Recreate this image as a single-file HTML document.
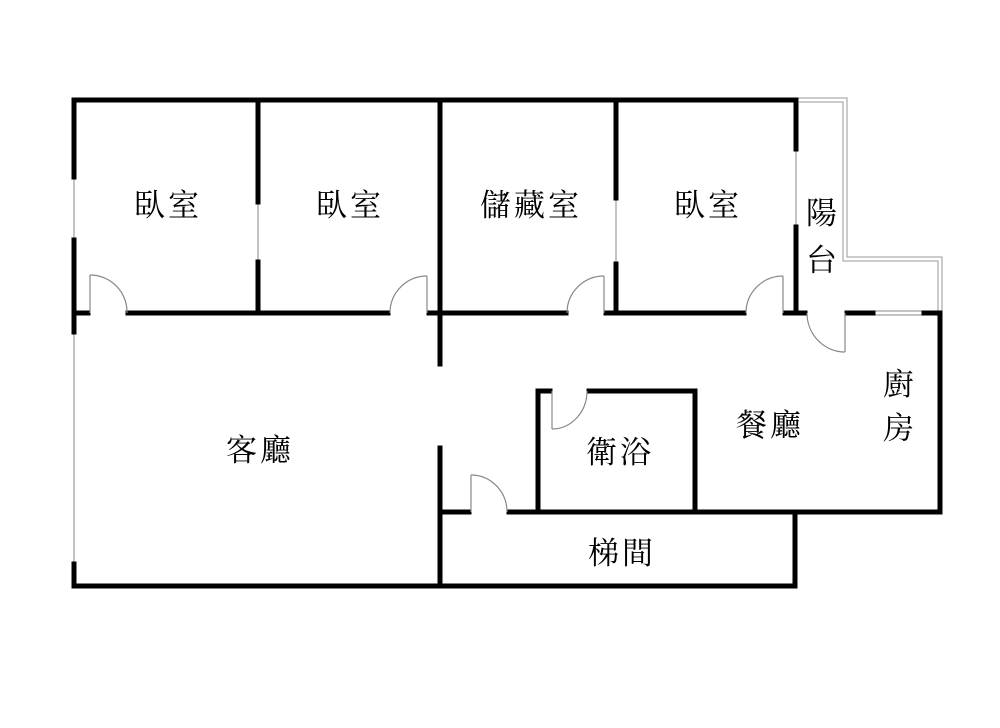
<!DOCTYPE html>
<html><head><meta charset="utf-8"><style>html,body{margin:0;padding:0;background:#fff;}svg{display:block}</style></head>
<body>
<svg width="1000" height="728" viewBox="0 0 1000 728" xmlns="http://www.w3.org/2000/svg">
<rect width="1000" height="728" fill="#fff"/>
<g fill="none" stroke="#999" stroke-width="1">
<polyline points="797,98 847,98 847,257 942,257 942,313"/>
<polyline points="799,102 843,102 843,261 938,261 938,313"/>
</g>
<g stroke="#888" stroke-width="1">
<line x1="74" y1="177" x2="74" y2="240"/>
<line x1="74" y1="332" x2="74" y2="564"/>
<line x1="258" y1="202" x2="258" y2="262"/>
<line x1="616" y1="198" x2="616" y2="264"/>
<line x1="796" y1="149" x2="796" y2="227"/>
<line x1="875" y1="311" x2="922" y2="311"/>
<line x1="875" y1="315" x2="922" y2="315"/>
</g>
<g stroke="#000" stroke-width="5" stroke-linecap="square" fill="none">
<line x1="74" y1="100" x2="796" y2="100"/>
<line x1="74" y1="100" x2="74" y2="177"/>
<line x1="74" y1="240" x2="74" y2="332"/>
<line x1="74" y1="564" x2="74" y2="586"/>
<line x1="74" y1="586" x2="795" y2="586"/>
<line x1="258" y1="100" x2="258" y2="202"/>
<line x1="258" y1="262" x2="258" y2="313"/>
<line x1="440" y1="100" x2="440" y2="364"/>
<line x1="440" y1="448" x2="440" y2="586"/>
<line x1="616" y1="100" x2="616" y2="198"/>
<line x1="616" y1="264" x2="616" y2="313"/>
<line x1="796" y1="100" x2="796" y2="149"/>
<line x1="796" y1="227" x2="796" y2="313"/>
<line x1="74" y1="313" x2="88" y2="313"/>
<line x1="128" y1="313" x2="388" y2="313"/>
<line x1="429" y1="313" x2="566" y2="313"/>
<line x1="606" y1="313" x2="744" y2="313"/>
<line x1="785" y1="313" x2="805" y2="313"/>
<line x1="847" y1="313" x2="873" y2="313"/>
<line x1="924" y1="313" x2="940" y2="313"/>
<line x1="940" y1="313" x2="940" y2="512"/>
<line x1="440" y1="512" x2="469" y2="512"/>
<line x1="509" y1="512" x2="940" y2="512"/>
<line x1="795" y1="512" x2="795" y2="586"/>
<line x1="538" y1="391" x2="538" y2="512"/>
<line x1="695" y1="391" x2="695" y2="512"/>
<line x1="538" y1="391" x2="550" y2="391"/>
<line x1="589" y1="391" x2="695" y2="391"/>
</g>
<g stroke="#888" stroke-width="1.2" fill="none">
<line x1="90" y1="313" x2="90" y2="275"/><path d="M90,275 A37,37 0 0 1 127,313"/>
<line x1="427" y1="313" x2="427" y2="276"/><path d="M427,276 A37,37 0 0 0 390,313"/>
<line x1="604" y1="313" x2="604" y2="276"/><path d="M604,276 A37,37 0 0 0 567,313"/>
<line x1="783" y1="313" x2="783" y2="276"/><path d="M783,276 A37,37 0 0 0 746,313"/>
<line x1="845" y1="313" x2="845" y2="352"/><path d="M845,352 A38,39 0 0 1 807,313"/>
<line x1="552" y1="391" x2="552" y2="429"/><path d="M552,429 A35,38 0 0 0 587,391"/>
<line x1="471" y1="512" x2="471" y2="475"/><path d="M471,475 A36,37 0 0 1 507,512"/>
</g>
<g font-family="'Liberation Serif','Noto Serif CJK SC',serif" font-size="31" fill="#000" text-anchor="middle" letter-spacing="3">
<text x="168" y="216">臥室</text>
<text x="350" y="216">臥室</text>
<text x="531" y="216">儲藏室</text>
<text x="708" y="216">臥室</text>
<text x="823" y="224">陽</text>
<text x="823" y="271">台</text>
<text x="260" y="461">客廳</text>
<text x="620" y="463">衛浴</text>
<text x="770" y="436">餐廳</text>
<text x="900" y="395">廚</text>
<text x="900" y="439">房</text>
<text x="622" y="564">梯間</text>
</g>
</svg>
</body></html>
